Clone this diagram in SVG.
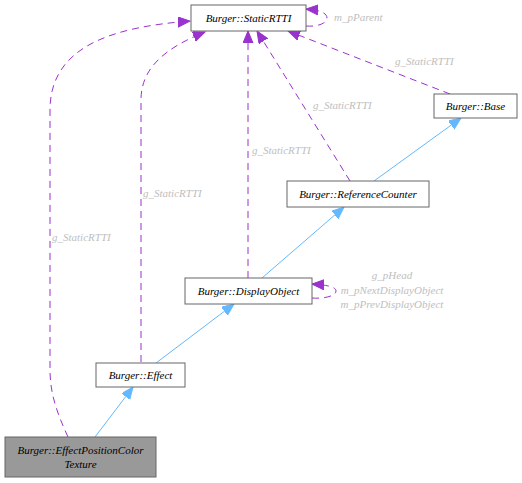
<svg xmlns="http://www.w3.org/2000/svg" width="522" height="483" viewBox="0 0 522 483">
<style>
.n rect{fill:#ffffff;stroke:#666666;stroke-width:1}
.n text{font-family:"Liberation Serif",serif;font-style:italic;font-size:11px;fill:#000000;text-anchor:middle}
.d{fill:none;stroke:#9a32cd;stroke-width:1;stroke-dasharray:7,5}
.b{fill:none;stroke:#63b8ff;stroke-width:1}
.l{font-family:"Liberation Serif",serif;font-style:italic;font-size:11px;fill:#bebebe}
</style>
<defs>
<marker id="ap" markerUnits="userSpaceOnUse" markerWidth="14" markerHeight="12" refX="12" refY="5" orient="auto"><path d="M0,0 L12,5 L0,10 Z" fill="#9a32cd" stroke="#9a32cd"/></marker>
<marker id="ab" markerUnits="userSpaceOnUse" markerWidth="14" markerHeight="12" refX="12" refY="5" orient="auto"><path d="M0,0 L12,5 L0,10 Z" fill="#63b8ff" stroke="#63b8ff"/></marker>
</defs>
<g id="edges">
<path class="d" d="M68,437 C58,415 50,395 50,370 L50,110 C50,45 115,27 190,21" marker-end="url(#ap)"/>
<path class="d" d="M141,362 L141,100 C141,68 165,48 205,32" marker-end="url(#ap)"/>
<path class="d" d="M248,278 L248,31" marker-end="url(#ap)"/>
<path class="d" d="M350,181 L257,31" marker-end="url(#ap)"/>
<path class="d" d="M450,94 L288,31" marker-end="url(#ap)"/>
<path class="d" d="M306,26 C318,27 327,23 327,18 C327,13 320,10 306,9" marker-end="url(#ap)"/>
<path class="d" d="M312,298 C324,299 336,296 336,291 C336,287 328,285 312,284" marker-end="url(#ap)"/>
<path class="b" d="M95,437 L133,387" marker-end="url(#ab)"/>
<path class="b" d="M156,363 L234,304" marker-end="url(#ab)"/>
<path class="b" d="M262,278 L344,207" marker-end="url(#ab)"/>
<path class="b" d="M374,181 L461,118" marker-end="url(#ab)"/>
<text class="l" x="52" y="241">g_StaticRTTI</text>
<text class="l" x="143" y="197">g_StaticRTTI</text>
<text class="l" x="252" y="154">g_StaticRTTI</text>
<text class="l" x="313" y="109">g_StaticRTTI</text>
<text class="l" x="395" y="65">g_StaticRTTI</text>
<text class="l" x="334" y="21">m_pParent</text>
<text class="l" x="392" y="279" text-anchor="middle">g_pHead</text>
<text class="l" x="392" y="294" text-anchor="middle">m_pNextDisplayObject</text>
<text class="l" x="392" y="308" text-anchor="middle">m_pPrevDisplayObject</text>
</g>
<g id="StaticRTTI" class="n"><rect x="191" y="5" width="115" height="26"/><text x="248.5" y="21.5">Burger::StaticRTTI</text></g>
<g id="Base" class="n"><rect x="434" y="94" width="83" height="24"/><text x="475.5" y="109.5">Burger::Base</text></g>
<g id="ReferenceCounter" class="n"><rect x="287" y="181" width="142" height="26"/><text x="358" y="197.5">Burger::ReferenceCounter</text></g>
<g id="DisplayObject" class="n"><rect x="185" y="278" width="127" height="26"/><text x="248.5" y="294.5">Burger::DisplayObject</text></g>
<g id="Effect" class="n"><rect x="96" y="363" width="89" height="24"/><text x="140.5" y="378.5">Burger::Effect</text></g>
<g id="EffectPositionColorTexture" class="n"><rect x="5" y="437" width="151" height="40" style="fill:#999999"/><text x="80.5" y="453.5">Burger::EffectPositionColor</text><text x="80.5" y="467.5">Texture</text></g>
</svg>
